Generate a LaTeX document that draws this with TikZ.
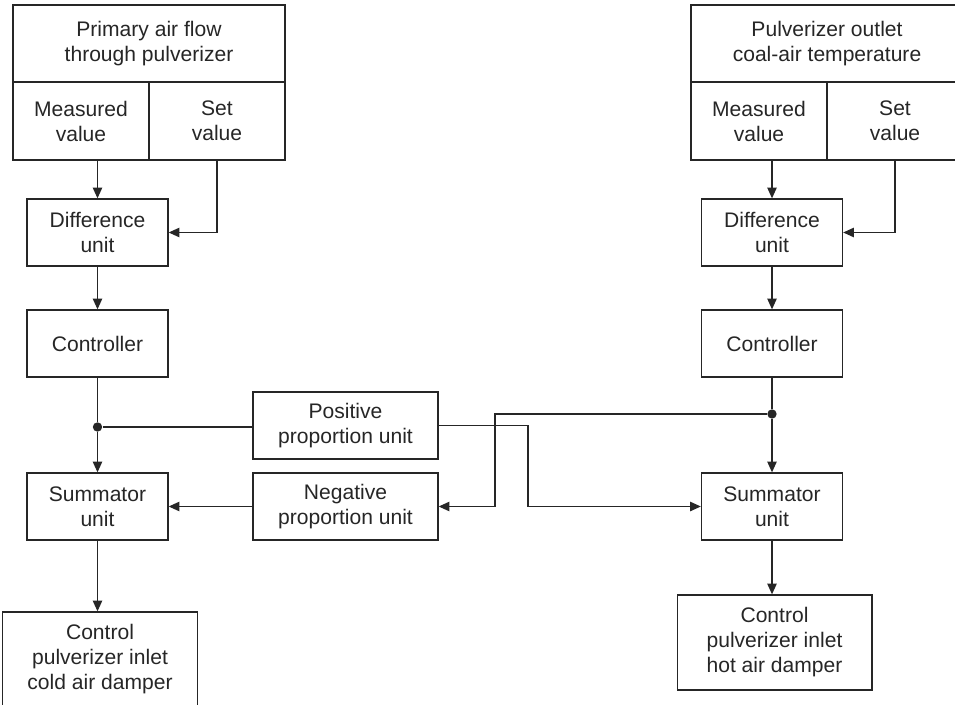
\documentclass[tikz,border=0pt]{standalone}
\usepackage{fontspec}
\setmainfont{Liberation Sans}
\usetikzlibrary{arrows.meta}

\tikzset{
  blk/.style={draw, align=center, inner sep=0pt, minimum width=105.75pt, minimum height=50.25pt},
  wideblk/.style={blk, minimum width=138.75pt},
  hdr/.style={blk, minimum width=204pt, minimum height=57.75pt},
  cell/.style={blk, minimum width=102pt, minimum height=58.5pt},
  outblk/.style={blk, minimum width=146pt, minimum height=71.25pt},
  jdot/.style={circle, fill, inner sep=0pt, minimum size=7pt},
}

\begin{document}
\begin{tikzpicture}[x=0.75pt, y=-0.75pt, line width=1pt, color=black!85,
    >={Triangle[length=8pt,width=7pt]},
    font=\fontsize{15.8}{18.75}\selectfont]
    \clip (0,0) rectangle (955,705);

    % Left loop: primary air flow
    \node[hdr] (hdrL) at (149,43.5) {Primary air flow\\through pulverizer};
    \node[cell] (measL) at (81,121) {Measured\\value};
    \node[cell] (setL) at (217,121) {Set\\value};
    \node[blk] (diffL) at (97.5,232.5) {Difference\\unit};
    \node[blk] (ctrlL) at (97.5,343.5) {Controller};
    \node[jdot] (dotL) at (97.5,427) {};
    \node[blk] (sumL) at (97.5,506.5) {Summator\\unit};
    \node[outblk] (outL) at (100,659.5) {Control\\pulverizer inlet\\cold air damper};

    % Cross coupling units
    \node[wideblk] (pos) at (345.5,425.5) {Positive\\proportion unit};
    \node[wideblk] (neg) at (345.5,506.5) {Negative\\proportion unit};

    % Right loop: coal-air temperature
    \node[hdr] (hdrR) at (827,43.5) {Pulverizer outlet\\coal-air temperature};
    \node[cell] (measR) at (759,121) {Measured\\value};
    \node[cell] (setR) at (895,121) {Set\\value};
    \node[blk] (diffR) at (772,232.5) {Difference\\unit};
    \node[blk] (ctrlR) at (772,343.5) {Controller};
    \node[jdot] (dotR) at (772,414) {};
    \node[blk] (sumR) at (772,506.5) {Summator\\unit};
    \node[outblk] (outR) at (774.5,642.5) {Control\\pulverizer inlet\\hot air damper};

    \coordinate (bendP) at (528,0);
    \coordinate (bendN) at (495,0);

    % left connectors
    \draw[->] (measL.south -| diffL.north) -- (diffL.north);
    \draw[->] (setL.south) |- (diffL.east);
    \draw[->] (diffL) -- (ctrlL);
    \draw (ctrlL) -- (dotL);
    \draw[->] (dotL) -- (sumL);
    \draw (dotL) -- (dotL -| pos.west);
    \draw[->] (sumL.south) -- (sumL.south |- outL.north);

    % right connectors
    \draw[->] (measR.south -| diffR.north) -- (diffR.north);
    \draw[->] (setR.south) |- (diffR.east);
    \draw[->] (diffR) -- (ctrlR);
    \draw (ctrlR) -- (dotR);
    \draw[->] (dotR) -- (sumR);
    \draw[->] (sumR.south) -- (sumR.south |- outR.north);

    % cross connections
    \draw[->] (pos.east) -| (bendP |- sumR.west) -- (sumR.west);
    \draw[->] (dotR) -| (bendN |- neg.east) -- (neg.east);
    \draw[->] (neg) -- (sumL);
\end{tikzpicture}
\end{document}
